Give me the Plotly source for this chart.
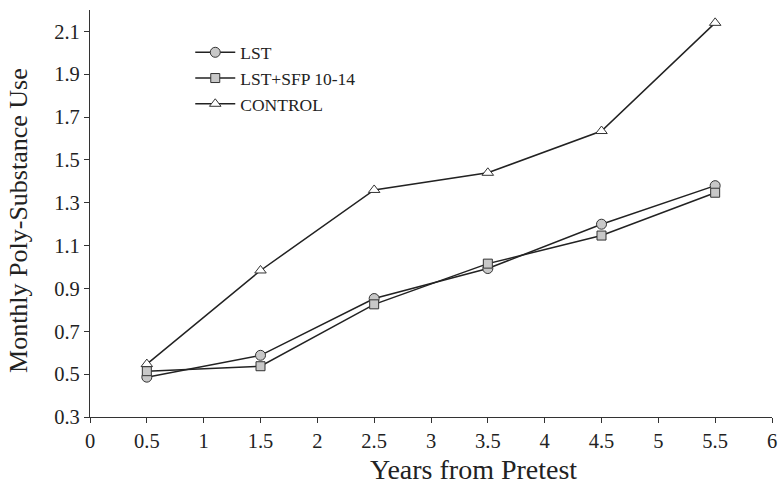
import plotly.graph_objects as go

years = [0.5, 1.5, 2.5, 3.5, 4.5, 5.5]
lst = [0.486, 0.588, 0.853, 0.993, 1.20, 1.38]
lst_sfp = [0.514, 0.537, 0.826, 1.016, 1.147, 1.347]
control = [0.547, 0.984, 1.36, 1.44, 1.635, 2.14]

x_ticks = [0, 0.5, 1, 1.5, 2, 2.5, 3, 3.5, 4, 4.5, 5, 5.5, 6]
x_ticktext = ["0", "0.5", "1", "1.5", "2", "2.5", "3", "3.5", "4", "4.5", "5", "5.5", "6"]
y_ticks = [0.3, 0.5, 0.7, 0.9, 1.1, 1.3, 1.5, 1.7, 1.9, 2.1]
y_ticktext = ["0.3", "0.5", "0.7", "0.9", "1.1", "1.3", "1.5", "1.7", "1.9", "2.1"]
x_title = "Years from Pretest"
y_title = "Monthly Poly-Substance Use"

line_color = "#222222"
fig = go.Figure()
fig.add_trace(go.Scatter(x=years, y=lst, name="LST", mode="lines+markers",
                         line=dict(color=line_color, width=1.5),
                         marker=dict(symbol="circle", size=10, color="#c8c8c8",
                                     line=dict(color="#333333", width=1))))
fig.add_trace(go.Scatter(x=years, y=lst_sfp, name="LST+SFP 10-14", mode="lines+markers",
                         line=dict(color=line_color, width=1.5),
                         marker=dict(symbol="square", size=9, color="#c8c8c8",
                                     line=dict(color="#333333", width=1))))
fig.add_trace(go.Scatter(x=years, y=control, name="CONTROL", mode="lines+markers",
                         line=dict(color=line_color, width=1.5),
                         marker=dict(symbol="triangle-up", size=10, color="white",
                                     line=dict(color="#333333", width=1))))

font_family = "Liberation Serif, Times New Roman, serif"
fig.update_layout(
    width=784, height=486,
    paper_bgcolor="white", plot_bgcolor="white",
    margin=dict(l=90, r=12, t=10, b=69),
    font=dict(family=font_family, color="#222222"),
    legend=dict(x=0.147, y=0.94, xanchor="left", yanchor="top",
                font=dict(family=font_family, size=17.5, color="#222222"),
                bgcolor="rgba(0,0,0,0)", tracegroupgap=2, itemwidth=40),
    showlegend=True,
)
fig.add_annotation(text=x_title, xref="paper", yref="paper", x=0.5616, y=-0.13,
                   xanchor="center", yanchor="middle", showarrow=False,
                   font=dict(size=28, family=font_family, color="#222222"))
fig.add_annotation(text=y_title, xref="paper", yref="paper", x=-0.1056, y=0.484,
                   xanchor="center", yanchor="middle", showarrow=False, textangle=-90,
                   font=dict(size=26, family=font_family, color="#222222"))
fig.update_xaxes(range=[0, 6], tickvals=x_ticks, ticktext=x_ticktext, automargin=False,
                 showgrid=False, zeroline=False, showline=True, linecolor="#333333", linewidth=1.2,
                 ticks="outside", ticklen=5, tickcolor="#333333",
                 tickfont=dict(size=20.5, family=font_family, color="#222222"))
fig.update_yaxes(range=[0.3, 2.2], tickvals=y_ticks, ticktext=y_ticktext, automargin=False,
                 showgrid=False, zeroline=False, showline=True, linecolor="#333333", linewidth=1.2,
                 ticks="outside", ticklen=5, tickcolor="#333333",
                 tickfont=dict(size=20.5, family=font_family, color="#222222"))

fig.write_html("out.html", post_script="document.body.style.margin='0';",
               config={"displayModeBar": False})
